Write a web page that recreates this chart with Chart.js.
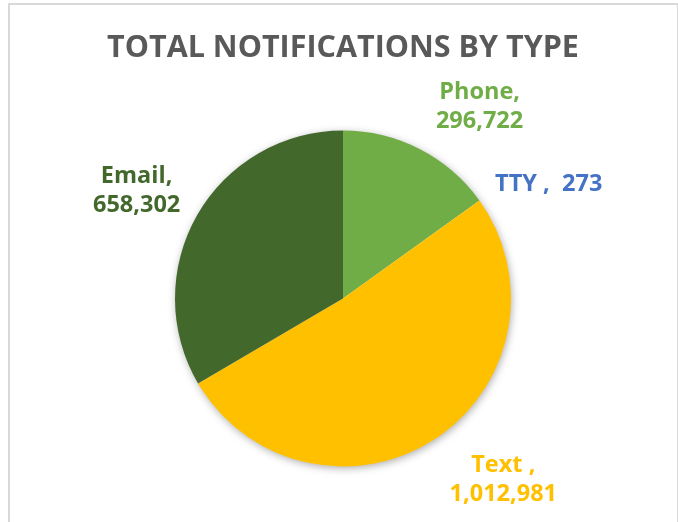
<!DOCTYPE html>
<html>
<head>
<meta charset="utf-8">
<script src="https://cdn.jsdelivr.net/npm/chart.js@4"></script>
<style>
  html, body { margin: 0; padding: 0; background: #fff; }
  #wrap { position: relative; width: 678px; height: 522px; overflow: hidden; }
  #frame { position: absolute; left: 8px; top: 3px; width: 667px; height: 540px;
           border: 2px solid #d9d9d9; border-bottom: none; }
  #myChart { position: absolute; left: 0; top: 0; }
</style>
</head>
<body>
<div id="wrap">
  <div id="frame"></div>
  <canvas id="myChart" width="678" height="522"></canvas>
</div>
<script>
// Chart data
const categories = ['Phone', 'TTY ', 'Text ', 'Email'];
const notifications = [296722, 273, 1012981, 658302];
const sliceColors = ['#70AD47', '#4472C4', '#FFC000', '#43682B'];
const labelBreak = [true, false, true, true]; // value goes on a second line

// Where each data label sits: angle (deg) from center, distance as a share of the radius
const labelAngles = [-54.5, -29, 48.5, -152.5];
const labelDistance = [1.40, 1.40, 1.44, 1.385];

function labelLines(i) {
    const value = notifications[i].toLocaleString('en-US');
    return labelBreak[i] ? [categories[i] + ',', value] : [categories[i] + ',  ' + value];
}

// Soft shadow behind the whole pie
const pieShadow = {
    id: 'pieShadow',
    beforeDatasetsDraw(chart) {
        const arc = chart.getDatasetMeta(0).data[0];
        if (!arc) return;
        const ctx = chart.ctx;
        ctx.save();
        ctx.shadowColor = 'rgba(0,0,0,0.35)';
        ctx.shadowBlur = 9;
        ctx.shadowOffsetX = 1;
        ctx.shadowOffsetY = 2;
        ctx.fillStyle = '#ffffff';
        ctx.beginPath();
        ctx.arc(arc.x, arc.y, arc.outerRadius - 0.5, 0, Math.PI * 2);
        ctx.fill();
        ctx.restore();
    }
};

// Excel-like outside data labels
const outsideLabels = {
    id: 'outsideLabels',
    afterDatasetsDraw(chart) {
        const meta = chart.getDatasetMeta(0);
        const ctx = chart.ctx;
        ctx.save();
        ctx.font = 'bold 23.5px "Open Sans"';
        ctx.textAlign = 'center';
        ctx.textBaseline = 'middle';
        meta.data.forEach((arc, i) => {
            const a = labelAngles[i] * Math.PI / 180;
            const r = arc.outerRadius * labelDistance[i];
            const cx = arc.x + Math.cos(a) * r;
            const cy = arc.y + Math.sin(a) * r;
            const lines = labelLines(i);
            const lh = 29;
            ctx.fillStyle = sliceColors[i];
            lines.forEach((t, k) => {
                ctx.fillText(t, cx, cy + (k - (lines.length - 1) / 2) * lh);
            });
        });
        ctx.restore();
    }
};

const config = {
    type: 'pie',
    data: {
        labels: categories,
        datasets: [{
            data: notifications,
            backgroundColor: sliceColors,
            borderWidth: 0,
            hoverOffset: 0,
            offset: 0
        }]
    },
    options: {
        responsive: false,
        animation: false,
        events: [],
        radius: 168,
        layout: {
            padding: { top: 0, left: 8, right: 0, bottom: 55.5 }
        },
        plugins: {
            legend: { display: false },
            tooltip: { enabled: false },
            title: {
                display: true,
                text: 'TOTAL NOTIFICATIONS BY TYPE',
                color: '#595959',
                font: { family: '"Open Sans"', size: 30.5, weight: 'bold', lineHeight: 1.2 },
                padding: { top: 30, bottom: 63.9 }
            }
        }
    },
    plugins: [pieShadow, outsideLabels]
};

const ctx = document.getElementById('myChart').getContext('2d');
const currentChart = new Chart(ctx, config);
</script>
</body>
</html>
